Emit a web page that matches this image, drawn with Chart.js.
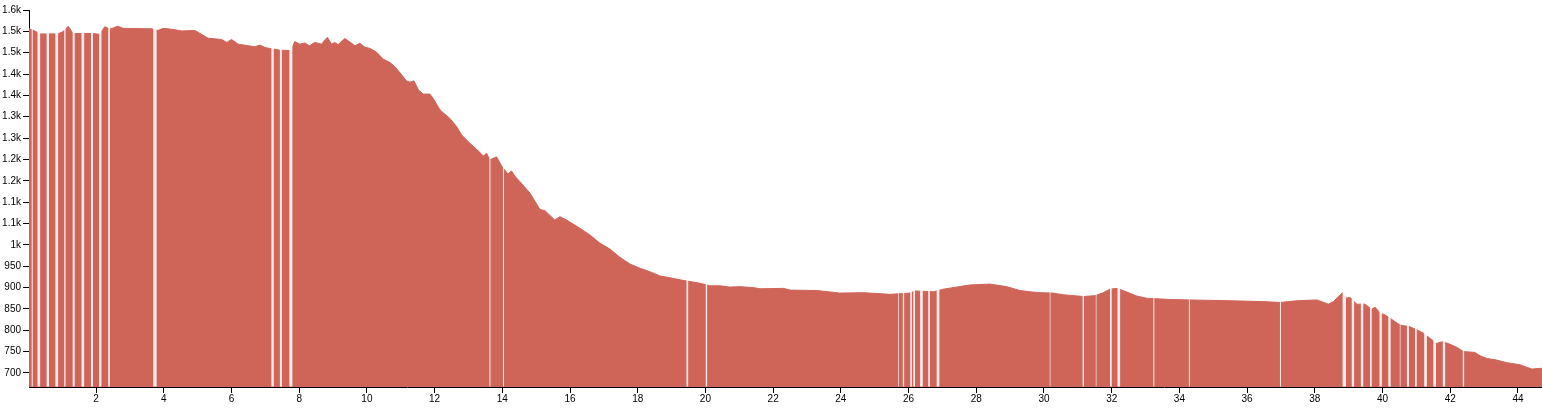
<!DOCTYPE html>
<html>
<head>
<meta charset="utf-8">
<script src="https://cdn.jsdelivr.net/npm/chart.js@4"></script>
<style>
  body { margin: 0; background: #fff; }
  #wrap { width: 1542px; height: 409px; }
</style>
</head>
<body>
<div id="wrap"><canvas id="myChart"></canvas></div>
<script>
// distance along the route (km) and elevation (m)
const distances = [
  0.00, 0.19, 0.34, 0.87, 1.02, 1.18, 1.32, 1.87, 2.11, 2.26, 2.41, 2.64, 2.80, 3.64, 3.83, 3.98,
  4.23, 4.53, 4.92, 5.31, 5.71, 5.86, 6.00, 6.20, 6.69, 6.84, 6.99, 7.13, 7.43, 7.73, 7.78, 7.87,
  8.02, 8.17, 8.30, 8.46, 8.66, 8.83, 8.96, 9.05, 9.15, 9.35, 9.55, 9.65, 9.79, 9.94, 10.09, 10.29,
  10.48, 10.68, 10.83, 11.03, 11.17, 11.27, 11.39, 11.52, 11.66, 11.86, 11.96, 12.16, 12.45, 12.65,
  12.80, 13.04, 13.24, 13.44, 13.54, 13.63, 13.83, 13.98, 14.03, 14.17, 14.27, 14.37, 14.52, 14.82,
  15.11, 15.26, 15.55, 15.70, 15.90, 16.29, 16.59, 16.88, 17.18, 17.47, 17.77, 18.07, 18.36, 18.66,
  18.95, 19.25, 19.54, 19.84, 20.13, 20.43, 20.72, 21.02, 21.41, 21.61, 22.30, 22.50, 23.29, 23.97,
  24.66, 25.45, 26.04, 26.19, 26.73, 27.02, 27.81, 28.40, 28.90, 29.29, 29.59, 29.88, 30.27, 30.57,
  31.16, 31.51, 31.75, 31.95, 32.15, 32.34, 32.74, 33.03, 33.72, 34.31, 35.49, 36.48, 36.97, 37.47,
  38.06, 38.40, 38.55, 38.82, 38.94, 39.04, 39.24, 39.48, 39.68, 39.78, 39.93, 40.07, 40.22, 40.37,
  40.52, 40.81, 41.01, 41.21, 41.40, 41.60, 41.75, 41.94, 42.19, 42.39, 42.73, 42.88, 43.08, 43.37,
  43.67, 44.06, 44.41, 44.71
];
const elevations = [
  1507, 1501, 1494, 1494, 1499, 1512, 1495, 1495, 1493, 1511, 1505, 1512, 1507, 1506, 1502, 1507,
  1505, 1501, 1502, 1484, 1481, 1474, 1481, 1470, 1464, 1468, 1462, 1460, 1456, 1455, 1460, 1476,
  1470, 1473, 1466, 1474, 1470, 1486, 1470, 1474, 1469, 1483, 1472, 1466, 1472, 1463, 1460, 1451,
  1435, 1427, 1417, 1398, 1384, 1381, 1384, 1363, 1353, 1353, 1343, 1316, 1296, 1277,
  1257, 1238, 1224, 1208, 1214, 1199, 1206, 1185, 1179, 1166, 1173, 1161, 1148, 1121,
  1083, 1080, 1058, 1066, 1058, 1039, 1023, 1004, 990, 971, 955, 945, 937, 927,
  923, 918, 914, 910, 904, 904, 901, 902, 900, 897, 898, 894, 893, 887,
  888, 884, 887, 892, 890, 896, 906, 908, 902, 893, 890, 888, 887, 883,
  879, 881, 888, 896, 898, 893, 880, 875, 872, 871, 869, 867, 865, 869,
  871, 861, 867, 888, 875, 877, 861, 861, 849, 854, 840, 836, 828, 820,
  812, 808, 801, 793, 781, 769, 773, 769, 760, 750, 748, 740, 734, 730,
  724, 719, 709, 711
];
// stretches (km) where the profile has no bar
const gapStarts = [
  0.10, 0.27, 0.54, 0.80, 1.06, 1.31, 1.57, 1.85, 2.09, 2.36, 3.69, 7.18, 7.43, 7.71, 13.62, 14.02,
  19.44, 20.01, 25.69, 25.83, 26.05, 26.14, 26.34, 26.58, 26.83, 30.17, 31.14, 31.53, 31.95, 32.17,
  33.23, 34.28, 36.97, 38.82, 39.09, 39.36, 39.63, 39.91, 40.17, 40.51, 40.72, 40.96, 41.23, 41.50,
  41.78, 42.37
];
const gapEnds = [
  0.13, 0.35, 0.61, 0.88, 1.10, 1.37, 1.65, 1.91, 2.16, 2.41, 3.79, 7.25, 7.49, 7.80, 13.65, 14.05,
  19.49, 20.05, 25.71, 25.87, 26.10, 26.19, 26.42, 26.63, 26.91, 30.19, 31.18, 31.55, 32.00, 32.25,
  33.26, 34.31, 37.00, 38.92, 39.16, 39.43, 39.68, 39.98, 40.24, 40.53, 40.78, 41.01, 41.31, 41.58,
  41.85, 42.41
];
const xTicks = [2, 4, 6, 8, 10, 12, 14, 16, 18, 20, 22, 24, 26, 28, 30, 32, 34, 36, 38, 40, 42, 44];
const yTicks = [700, 750, 800, 850, 900, 950, 1000, 1050, 1100, 1150, 1200, 1250, 1300, 1350, 1400, 1450, 1500, 1550];
const yTickLabels = ['700', '750', '800', '850', '900', '950', '1k', '1.1k', '1.1k', '1.2k', '1.2k', '1.3k', '1.3k', '1.4k', '1.4k', '1.5k', '1.5k', '1.6k'];

const fillColor = '#cf6459';

const gapPlugin = {
  id: 'gaps',
  afterDatasetsDraw(chart) {
    const { ctx, chartArea, scales } = chart;
    ctx.save();
    ctx.beginPath();
    ctx.rect(chartArea.left, chartArea.top, chartArea.right - chartArea.left, chartArea.bottom - chartArea.top - 0.5);
    ctx.clip();
    ctx.fillStyle = 'rgba(255,255,255,0.88)';
    gapStarts.forEach((start, i) => {
      const x0 = scales.x.getPixelForValue(start);
      const x1 = scales.x.getPixelForValue(gapEnds[i]);
      ctx.fillRect(x0, chartArea.top, x1 - x0, chartArea.bottom - chartArea.top);
    });
    ctx.restore();
  }
};

const drawChart = () => {
  const ctx = document.getElementById('myChart').getContext('2d');
  const points = distances.map((d, i) => ({ x: d, y: elevations[i] }));
  const font = { family: 'Liberation Sans, Arial, sans-serif', size: 10 };

  new Chart(ctx, {
    type: 'line',
    data: {
      datasets: [
        {
          data: points,
          fill: 'start',
          backgroundColor: fillColor,
          borderColor: fillColor,
          borderWidth: 1,
          pointRadius: 0,
          tension: 0
        }
      ]
    },
    options: {
      responsive: true,
      maintainAspectRatio: false,
      animation: false,
      layout: { padding: { top: 10, left: 0, right: 0, bottom: 0 } },
      plugins: { legend: { display: false }, tooltip: { enabled: false } },
      scales: {
        x: {
          type: 'linear',
          min: 0.02,
          max: 44.71,
          afterFit: scale => { scale.height = 22; },
          afterBuildTicks: scale => { scale.ticks = xTicks.map(v => ({ value: v })); },
          ticks: { font: font, color: '#000', padding: 0, maxRotation: 0, autoSkip: false, includeBounds: false },
          grid: { drawOnChartArea: false, drawTicks: true, tickLength: 6, color: '#000' },
          border: { display: true, color: '#000' }
        },
        y: {
          min: 667,
          max: 1550,
          afterFit: scale => { scale.width = 29; },
          afterBuildTicks: scale => { scale.ticks = yTicks.map(v => ({ value: v })); },
          ticks: {
            font: font,
            color: '#000',
            padding: 2,
            autoSkip: false,
            callback: value => yTickLabels[yTicks.indexOf(value)]
          },
          grid: { drawOnChartArea: false, drawTicks: true, tickLength: 6, color: '#000' },
          border: { display: true, color: '#000' }
        }
      }
    },
    plugins: [gapPlugin]
  });
};

drawChart();
</script>
</body>
</html>
